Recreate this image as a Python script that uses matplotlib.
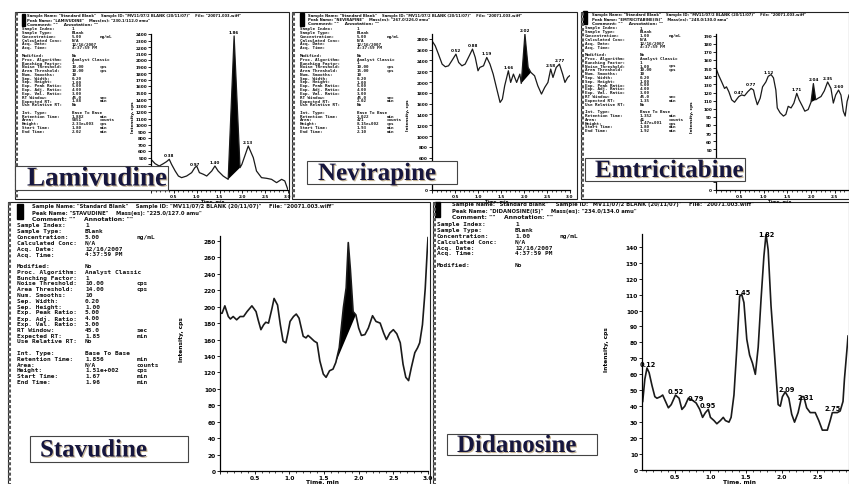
"""
Five LC-MS/MS blank chromatograms (scanned report layout) rebuilt with matplotlib.
"""

import matplotlib.pyplot as plt
import matplotlib.patheffects as pe
from matplotlib.patches import Rectangle
from matplotlib.ticker import MultipleLocator
import numpy as np

W, H = 849, 485

# ---- chromatogram data (time in min, intensity in cps) ----
lam_t = [0.00, 0.09, 0.18, 0.27, 0.34, 0.40, 0.45, 0.53, 0.60, 0.67, 0.78, 0.89, 0.96, 1.00, 1.06, 1.15, 1.22, 1.33,
         1.40, 1.47, 1.58, 1.69, 1.82, 1.95, 1.99, 2.13, 2.24, 2.31, 2.42, 2.53, 2.64, 2.75, 2.86, 2.93, 3.00]
lam_i = [472, 405, 369, 405, 436, 472, 395, 292, 215, 190, 215, 267, 344, 369, 267, 241, 215, 292,
         369, 292, 215, 164, 2370, 344, 395, 677, 498, 292, 190, 180, 164, 113, 164, 139, 0]
lam_peaks = [(0.40, '0.38'), (0.96, '0.97'), (1.40, '1.40'), (1.82, '1.86'), (2.13, '2.13')]
lam_fill = (1.69, 1.95)

nev_t = [0.00, 0.07, 0.14, 0.22, 0.29, 0.36, 0.43, 0.52, 0.58, 0.65, 0.72, 0.81, 0.88, 0.94, 1.00, 1.04, 1.12, 1.19,
         1.26, 1.33, 1.40, 1.48, 1.53, 1.58, 1.66, 1.71, 1.77, 1.84, 1.91, 1.94, 2.02, 2.09, 2.15, 2.23, 2.30, 2.38,
         2.45, 2.52, 2.58, 2.63, 2.70, 2.77, 2.84, 2.89, 2.95, 2.99]
nev_i = [2764, 2672, 2517, 2332, 2283, 2301, 2394, 2517, 2363, 2301, 2332, 2486, 2610, 2456, 2209, 2271, 2301, 2456,
         2332, 2147, 1900, 1622, 1684, 1931, 2209, 1993, 2147, 1993, 2147, 1974, 2887, 2271, 2178, 2116, 1931, 1777,
         1900, 1993, 2240, 2085, 2271, 2332, 2147, 1993, 2085, 2116]
nev_peaks = [(0.52, '0.52'), (0.88, '0.88'), (1.19, '1.19'), (1.66, '1.66'), (2.02, '2.02'), (2.58, '2.58'),
             (2.77, '2.77')]
nev_fill = (1.94, 2.15)

emt_t = [0.00, 0.05, 0.12, 0.18, 0.22, 0.27, 0.33, 0.39, 0.44, 0.48, 0.54, 0.60, 0.67, 0.74, 0.79, 0.82, 0.87, 0.93,
         0.98, 1.05, 1.10, 1.16, 1.21, 1.26, 1.29, 1.35, 1.42, 1.47, 1.52, 1.58, 1.64, 1.70, 1.75, 1.82, 1.87, 1.94,
         2.00, 2.05, 2.10, 2.15, 2.21, 2.28, 2.35, 2.42, 2.47, 2.52, 2.58, 2.63, 2.68, 2.72, 2.76, 2.80]
emt_i = [150, 142, 133, 125, 127, 121, 111, 108, 112, 115, 117, 116, 121, 125, 123, 115, 105, 113,
         127, 133, 140, 142, 138, 123, 101, 95, 91, 93, 103, 101, 107, 119, 111, 103, 97, 99,
         108, 131, 111, 113, 115, 122, 133, 125, 107, 117, 123, 117, 97, 91, 109, 117]
emt_peaks = [(0.48, '0.47'), (0.74, '0.77'), (1.10, '1.12'), (1.70, '1.71'), (2.05, '2.04'), (2.35, '2.35'),
             (2.58, '2.60')]
emt_fill = (2.00, 2.10)

sta_t = [0.00, 0.03, 0.07, 0.12, 0.15, 0.19, 0.24, 0.29, 0.34, 0.39, 0.46, 0.52, 0.55, 0.59, 0.63, 0.66, 0.70, 0.75,
         0.78, 0.83, 0.87, 0.91, 0.95, 0.98, 1.01, 1.06, 1.10, 1.14, 1.20, 1.24, 1.27, 1.31, 1.36, 1.40, 1.44, 1.49,
         1.53, 1.58, 1.63, 1.67, 1.72, 1.78, 1.82, 1.85, 1.88, 1.92, 1.96, 2.00, 2.04, 2.09, 2.14, 2.20, 2.25, 2.31,
         2.36, 2.40, 2.45, 2.50, 2.55, 2.60, 2.64, 2.68, 2.72, 2.76, 2.81, 2.85, 2.88, 2.92, 2.96, 2.99, 3.00]
sta_i = [192, 192, 201, 188, 185, 188, 184, 188, 188, 194, 201, 194, 184, 172, 178, 181, 180, 198,
         210, 202, 178, 158, 156, 168, 182, 188, 191, 186, 164, 162, 165, 162, 158, 156, 134, 118,
         114, 122, 124, 132, 150, 199, 223, 278, 246, 194, 190, 174, 165, 166, 174, 189, 182, 180,
         168, 160, 168, 172, 167, 156, 130, 114, 110, 126, 144, 150, 156, 178, 222, 270, 284]
sta_peaks = []
sta_fill = (1.67, 1.96)

did_t = [0.05, 0.08, 0.11, 0.14, 0.18, 0.22, 0.25, 0.30, 0.33, 0.37, 0.41, 0.45, 0.51, 0.56, 0.60, 0.64, 0.69, 0.74,
         0.80, 0.85, 0.89, 0.93, 0.97, 1.00, 1.05, 1.09, 1.14, 1.18, 1.21, 1.26, 1.29, 1.33, 1.37, 1.41, 1.44, 1.47,
         1.51, 1.55, 1.59, 1.63, 1.67, 1.71, 1.75, 1.78, 1.81, 1.85, 1.90, 1.93, 1.95, 1.98, 2.01, 2.05, 2.10, 2.14,
         2.18, 2.23, 2.28, 2.31, 2.35, 2.40, 2.47, 2.52, 2.57, 2.64, 2.68, 2.71, 2.78, 2.82, 2.86, 2.88, 2.92, 2.93]
did_i = [43, 57, 64, 61, 53, 46, 45, 46, 47, 43, 39, 41, 47, 45, 38, 40, 45, 44,
         42, 38, 33, 36, 38, 33, 31, 29, 31, 33, 31, 30, 33, 47, 76, 109, 110, 105,
         82, 72, 67, 60, 77, 107, 134, 148, 138, 103, 72, 53, 41, 40, 46, 49, 45, 35,
         30, 36, 46, 46, 39, 36, 36, 31, 25, 25, 31, 36, 36, 37, 43, 57, 78, 84]
did_peaks = [(0.12, '0.12'), (0.52, '0.52'), (0.80, '0.79'), (0.96, '0.95'), (1.45, '1.45'), (1.79, '1.82'),
             (2.07, '2.09'), (2.33, '2.31'), (2.71, '2.75')]
did_fill = None

# ---- report text ----
def params(peak, mass, conc, area_thr, exp_rt, rt, area, height, start, end, noise='10.00'):
    head = ['Sample Name: "Standard Blank"    Sample ID: "MV11/07/2 BLANK (20/11/07)"    File: "20071.003.wiff"',
            'Peak Name: "%s"    Mass(es): "%s amu"' % (peak, mass),
            'Comment: ""    Annotation: ""']
    rows = [('Sample Index:', '1', ''), ('Sample Type:', 'Blank', ''), ('Concentration:', conc, 'ng/mL'),
            ('Calculated Conc:', 'N/A', ''), ('Acq. Date:', '12/16/2007', ''), ('Acq. Time:', '4:37:59 PM', ''),
            None, ('Modified:', 'No', ''), ('Proc. Algorithm:', 'Analyst Classic', ''), ('Bunching Factor:', '1', ''),
            ('Noise Threshold:', noise, 'cps'), ('Area Threshold:', area_thr, 'cps'), ('Num. Smooths:', '10', ''),
            ('Sep. Width:', '0.20', ''), ('Sep. Height:', '1.00', ''), ('Exp. Peak Ratio:', '5.00', ''),
            ('Exp. Adj. Ratio:', '4.00', ''), ('Exp. Val. Ratio:', '3.00', ''), ('RT Window:', '45.0', 'sec'),
            ('Expected RT:', exp_rt, 'min'), ('Use Relative RT:', 'No', ''), None,
            ('Int. Type:', 'Base To Base', ''), ('Retention Time:', rt, 'min'), ('Area:', area, 'counts'),
            ('Height:', height, 'cps'), ('Start Time:', start, 'min'), ('End Time:', end, 'min')]
    return head, rows

lam_head, lam_rows = params('LAMIVUDINE', '230.1/112.0', '5.00', '10.00', '1.88', '1.882', '5851',
                            '2.33e+003', '1.80', '2.02')
nev_head, nev_rows = params('NEVIRAPINE', '267.0/226.0', '5.00', '15.00', '2.02', '2.022', '471',
                            '8.15e+002', '1.93', '2.10')
emt_head, emt_rows = params('EMTRICITABINE(IS)', '248.0/130.0', '1.00', '10.00', '1.35', '1.352', '41',
                            '1.47e+001', '1.80', '1.92', noise='1.00')
sta_head, sta_rows = params('STAVUDINE', '225.0/127.0', '5.00', '14.00', '1.85', '1.856', 'N/A',
                            '1.51e+002', '1.67', '1.96')
did_head, did_rows = params('DIDANOSINE(IS)', '234.0/134.0', '1.00', '10.00', '1.82', '1.82', '-',
                            '-', '-', '-')
did_rows = did_rows[:8]

names = ['Lamivudine', 'Nevirapine', 'Emtricitabine', 'Stavudine', 'Didanosine']

# ---- figure ----
fig = plt.figure(figsize=(8.49, 4.85), dpi=100)
fig.patch.set_facecolor('white')
bg = fig.add_axes([0, 0, 1, 1], zorder=0)
bg.set_xlim(0, W); bg.set_ylim(H, 0); bg.axis('off')
fg = fig.add_axes([0, 0, 1, 1], zorder=5)
fg.set_xlim(0, W); fg.set_ylim(H, 0); fg.axis('off')

mono = 'DejaVu Sans Mono'

def frame(x0, y0, x1, y1, bar):
    bg.add_patch(Rectangle((x0, y0), x1 - x0, y1 - y0, fill=False, lw=0.8, ec='#222'))
    bg.plot([x0 + 1.5, x0 + 1.5], [y0, y1], color='#555', lw=2.2, ls=(0, (1, 0.7)))
    bx, by, bw, bh = bar
    bg.add_patch(Rectangle((bx, by), bw, bh, color='black'))

def text_block(head, rows, hx, hy, hdy, hfs, x0, xv, xu, y0, dy, fs):
    for k, line in enumerate(head):
        bg.text(hx, hy + k * hdy, line, fontsize=hfs * (1.15 if k == 2 else 1), family='DejaVu Sans',
                weight='bold', va='center', ha='left', color='#111')
    for k, r in enumerate(rows):
        if r is None:
            continue
        y = y0 + k * dy
        bg.text(x0, y, r[0], fontsize=fs, family=mono, weight='bold', va='center', color='#111')
        bg.text(xv, y, r[1], fontsize=fs, family=mono, weight='bold', va='center', color='#111')
        if r[2]:
            bg.text(xu, y, r[2], fontsize=fs, family=mono, weight='bold', va='center', color='#111')

def name_box(name, x0, y0, x1, y1, tx, fs):
    box = Rectangle((x0, y0), x1 - x0, y1 - y0, fc='white', ec='#444', lw=0.8)
    fg.add_patch(box)
    fg.text(tx, (y0 + y1) / 2 + 1, name, fontsize=fs, family='Liberation Serif', weight='bold',
            color='#16163e', va='center', ha='left',
            path_effects=[pe.withSimplePatchShadow(offset=(0.8, -0.8), shadow_rgbFace='#9a7a40', alpha=0.55)])
    return box

def chrom(rect, t, i, xlim, ylim, ystep, peaks, fill, fs, pfs, lw, ylab, xlab):
    l, r, top, b = rect
    ax = fig.add_axes([l / W, 1 - b / H, (r - l) / W, (b - top) / H], zorder=2)
    ax.patch.set_alpha(0)
    ax.plot(t, i, color='#1a1a1a', lw=lw, solid_joinstyle='round')
    if fill:
        tt = np.array(t); ii = np.array(i)
        m = (tt >= fill[0]) & (tt <= fill[1])
        ax.fill(tt[m], ii[m], color='black', lw=0)
    for pt, lab in peaks:
        ax.annotate(lab, (pt, np.interp(pt, t, i)), xytext=(0, 1.5), textcoords='offset points',
                    ha='center', va='bottom', fontsize=pfs, weight='bold', annotation_clip=False)
    ax.set_xlim(*xlim); ax.set_ylim(*ylim)
    ax.xaxis.set_major_locator(MultipleLocator(0.5))
    ax.xaxis.set_minor_locator(MultipleLocator(0.1))
    ax.yaxis.set_major_locator(MultipleLocator(ystep))
    ax.hidden = set()
    ax.xaxis.set_major_formatter(plt.FuncFormatter(lambda v, p: '%.1f' % v if v > 0.01 else ''))
    ax.yaxis.set_major_formatter(plt.FuncFormatter(
        lambda v, p, a=ax: '' if round(v) in a.hidden else '%d' % round(v)))
    for s in ['top', 'right']:
        ax.spines[s].set_visible(False)
    for s in ['left', 'bottom']:
        ax.spines[s].set_linewidth(0.9)
    ax.tick_params(which='major', length=2, width=0.6, labelsize=fs, pad=0.8)
    ax.tick_params(which='minor', length=1.2, width=0.5)
    for lbl in ax.get_xticklabels() + ax.get_yticklabels():
        lbl.set_fontweight('bold')
    bg.text(ylab[0], ylab[1], 'Intensity, cps', rotation=90, fontsize=fs, weight='bold', ha='center', va='center')
    bg.text(xlab[0], xlab[1], 'Time, min', fontsize=min(fs, 4.2), weight='bold', ha='center', va='center')
    return ax

# top row
frame(15, 13, 289, 200, (22, 15, 3.5, 12))
frame(292, 13, 577, 200, (300, 14, 4.5, 13))
frame(581, 13, 849, 200, (583, 12, 4, 13))
# bottom row
frame(8, 203, 430, 486, (17, 205, 6, 15))
frame(433, 203, 849, 486, (435, 203, 5, 15))

text_block(lam_head, lam_rows, 27, 16, 4.4, 2.7, 22, 72, 100, 29.3, 3.8, 3.1)
text_block(nev_head, nev_rows, 308, 16, 4.2, 2.7, 300, 357, 387, 29.3, 3.8, 3.1)
text_block(emt_head, emt_rows, 592, 15, 4.4, 2.7, 585, 640, 669, 28.5, 3.8, 3.1)
text_block(sta_head, sta_rows, 32, 207, 6.5, 3.8, 17, 85, 137, 226, 5.8, 4.4)
text_block(did_head, did_rows, 452, 205, 6.5, 3.8, 437, 515, 560, 225, 5.8, 4.4)

axes = [
    chrom((151, 288, 35, 191), lam_t, lam_i, (0, 3.0), (0, 2400), 100, lam_peaks, lam_fill, 3.0, 3.0, 0.9,
          (133, 117), (213, 201.5)),
    chrom((432, 570, 35, 191), nev_t, nev_i, (0, 3.0), (0, 2890), 200, nev_peaks, nev_fill, 3.0, 3.0, 0.9,
          (408, 115), (497, 201.5)),
    chrom((716, 849, 35, 191), emt_t, emt_i, (0, 2.8), (0, 192), 10, emt_peaks, emt_fill, 3.0, 3.0, 0.9,
          (692, 117), (780, 201.5)),
    chrom((220, 428, 237, 472), sta_t, sta_i, (0, 3.0), (0, 286), 20, sta_peaks, sta_fill, 4.2, 4.2, 1.2,
          (182, 340), (323, 482.3)),
    chrom((642, 848, 235, 471), did_t, did_i, (0.04, 2.93), (0, 148), 10, did_peaks, did_fill, 4.2, 4.8, 1.2,
          (607, 350), (740, 482.5)),
]

boxes = [
    name_box(names[0], 15, 167, 168, 191, 27, 19.5),
    name_box(names[1], 307, 162, 457, 185, 318, 18),
    name_box(names[2], 585, 159, 745, 182, 595, 18),
    name_box(names[3], 30, 437, 188, 463, 40, 18),
    name_box(names[4], 447, 435, 597, 456, 457, 18),
]

# tick labels that sit under a name box are covered in the scan
fig.canvas.draw()
rend = fig.canvas.get_renderer()
for ax, box in zip(axes, boxes):
    bb = box.get_window_extent(rend)
    for tick in ax.yaxis.get_major_ticks():
        if tick.label1.get_text() and tick.label1.get_window_extent(rend).overlaps(bb):
            ax.hidden.add(round(tick.get_loc()))

fig.savefig('out.png', dpi=100, facecolor='white')
